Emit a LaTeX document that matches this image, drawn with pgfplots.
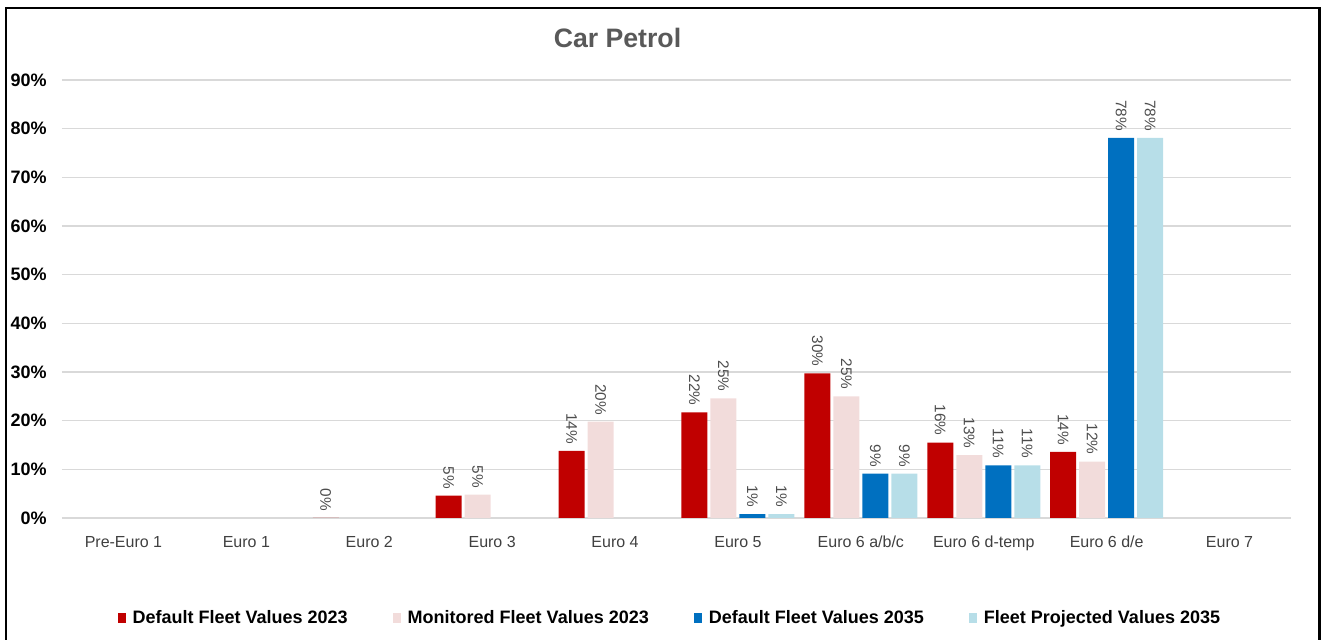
\documentclass[border=0pt]{standalone}
\usepackage{pgfplots}
\pgfplotsset{compat=1.18}
\usepackage{fontspec}
\setmainfont{Liberation Sans}
\definecolor{cRed}{HTML}{C00000}
\definecolor{cPink}{HTML}{F2DCDB}
\definecolor{cBlue}{HTML}{0070C0}
\definecolor{cLight}{HTML}{B7DEE8}
\definecolor{cGrid}{HTML}{D9D9D9}
\definecolor{cTitle}{HTML}{595959}
\definecolor{cLabel}{HTML}{4D4D4D}
\definecolor{cTick}{HTML}{404040}
\begin{document}
\begin{tikzpicture}
\path[use as bounding box] (0pt,0pt) rectangle (993pt,479.25pt);
\draw[line width=1.9pt,black] (4.5pt,-2pt) -- (4.5pt,473.25pt) -- (989.6pt,473.25pt) -- (989.6pt,-2pt);
\node[font=\bfseries\fontsize{20}{24}\selectfont, text=cTitle] at (463.1pt,450.75pt) {Car Petrol};
\begin{axis}[
  at={(46.5pt,90.75pt)}, anchor=south west,
  width=921.75pt, height=328.5pt, scale only axis,
  ybar=2.25pt, bar width=19.5pt,
  xmin=-0.5, xmax=9.5, ymin=0, ymax=90,
  xtick={0,...,9},
  xticklabels={Pre-Euro 1, Euro 1, Euro 2, Euro 3, Euro 4, Euro 5, Euro 6 a/b/c, Euro 6 d-temp, Euro 6 d/e, Euro 7},
  ytick={0,10,...,90},
  yticklabel={\pgfmathprintnumber{\tick}\%},
  /pgf/number format/assume math mode=true,
  axis line style={draw=none},
  tick style={draw=none},
  ymajorgrids, grid style={cGrid, line width=0.9pt},
  yticklabel style={font=\bfseries\fontsize{13.5}{16}\selectfont, text=black, xshift=-8pt},
  xticklabel style={font=\fontsize{12}{14}\selectfont, text=cTick, yshift=-6pt},
  nodes near coords={\pgfmathprintnumber[fixed,precision=0]{\pgfplotspointmeta}\%},
  every node near coord/.append style={rotate=-90, anchor=east, font=\fontsize{11.5}{13}\selectfont, text=cLabel, inner sep=0pt, xshift=-5pt},
  legend columns=4,
  legend style={at={(0.495,-0.228)}, anchor=center, draw=none, fill=none,
    font=\bfseries\fontsize{13.5}{16}\selectfont, text=black,
    /tikz/every odd column/.append style={column sep=3pt},
    /tikz/every even column/.append style={column sep=32pt},
    nodes={inner sep=2pt}},
  legend image code/.code={\fill[#1] (0pt,-4pt) rectangle (6pt,4pt);},
]
\addplot[fill=cRed, draw=none] coordinates {(2,0) (3,4.6) (4,13.8) (5,21.7) (6,29.7) (7,15.5) (8,13.6)};
\addlegendentry{Default Fleet Values 2023}
\addplot[fill=cPink, draw=none] coordinates {(3,4.8) (4,19.8) (5,24.6) (6,25.0) (7,12.9) (8,11.6)};
\addlegendentry{Monitored Fleet Values 2023}
\addplot[fill=cBlue, draw=none] coordinates {(5,0.8) (6,9.1) (7,10.8) (8,78.1)};
\addlegendentry{Default Fleet Values 2035}
\addplot[fill=cLight, draw=none] coordinates {(5,0.8) (6,9.1) (7,10.8) (8,78.1)};
\addlegendentry{Fleet Projected Values 2035}
\end{axis}
\end{tikzpicture}
\end{document}
